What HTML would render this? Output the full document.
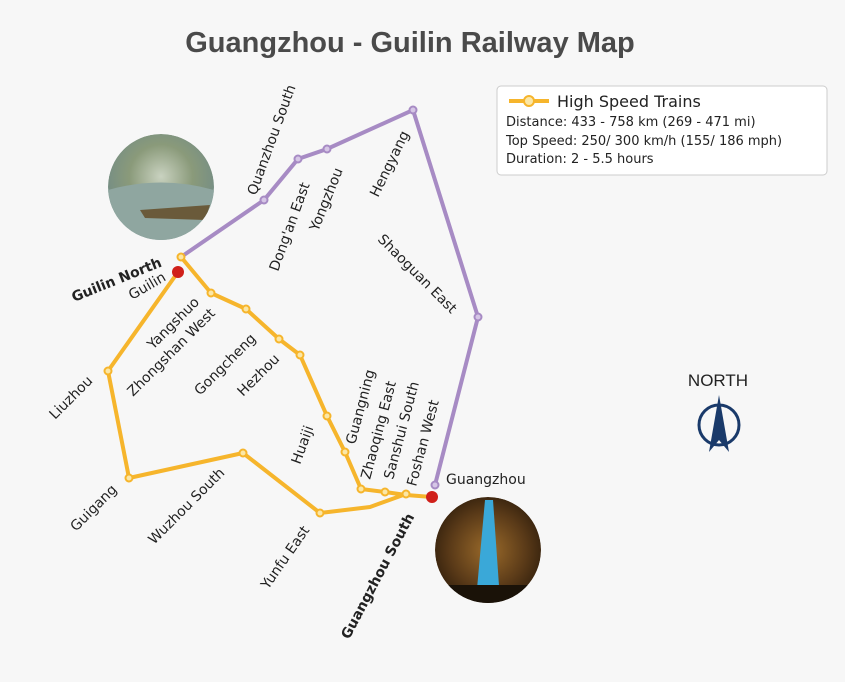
<!DOCTYPE html>
<html><head><meta charset="utf-8"><style>
body{margin:0;background:#f7f7f7;}
svg{display:block;font-family:"DejaVu Sans","Liberation Sans",sans-serif;}
</style></head><body>
<svg width="845" height="682" viewBox="0 0 845 682">
<defs>
<radialGradient id="g1" cx="50%" cy="40%" r="60%"><stop offset="0" stop-color="#c9d2c0"/><stop offset="0.5" stop-color="#8a9a7a"/><stop offset="1" stop-color="#6f8a88"/></radialGradient>
<radialGradient id="g2" cx="50%" cy="50%" r="60%"><stop offset="0" stop-color="#9a6a2a"/><stop offset="0.6" stop-color="#5a3a18"/><stop offset="1" stop-color="#2a1a0a"/></radialGradient>
<clipPath id="c1"><circle cx="161" cy="187" r="53"/></clipPath>
<clipPath id="c2"><circle cx="488" cy="550" r="53"/></clipPath>
</defs>
<rect width="845" height="682" fill="#f7f7f7"/>
<text x="410" y="52" text-anchor="middle" font-family="Liberation Sans,sans-serif" font-weight="bold" font-size="29" fill="#4a4a4a">Guangzhou - Guilin Railway Map</text>

<g clip-path="url(#c1)">
<circle cx="161" cy="187" r="53" fill="url(#g1)"/>
<path d="M108,190 Q161,175 214,190 L214,240 L108,240Z" fill="#8fa6a0"/>
<path d="M140,210 L210,205 L205,220 L145,218Z" fill="#6a5a3a"/>
</g>
<g clip-path="url(#c2)">
<circle cx="488" cy="550" r="53" fill="url(#g2)"/>
<path d="M485,500 L493,500 L500,600 L476,600Z" fill="#3aa8d8"/>
<rect x="435" y="585" width="106" height="20" fill="#1a1208"/>
</g>

<polyline points="181,257 264,200 298,159 327,149 413,110 478,317 435,485" fill="none" stroke="#a78bc4" stroke-width="4"/>
<g fill="#d6c6e6" stroke="#a78bc4" stroke-width="2">
<circle cx="264" cy="200" r="3.5"/><circle cx="298" cy="159" r="3.5"/><circle cx="327" cy="149" r="3.5"/><circle cx="413" cy="110" r="3.5"/><circle cx="478" cy="317" r="3.5"/><circle cx="435" cy="485" r="3.5"/>
</g>
<g fill="none" stroke="#f6b52c" stroke-width="4" stroke-linejoin="round">
<polyline points="181,257 211,293 246,309 279,339 300,355 327,416 345,452 361,489 385,492 406,495 432,497"/>
<polyline points="178,272 108,371 129,478 243,453 320,513 370,507 406,494"/>
</g>
<g fill="#fbe7a6" stroke="#f6b52c" stroke-width="2">
<circle cx="181" cy="257" r="3.5"/><circle cx="211" cy="293" r="3.5"/><circle cx="246" cy="309" r="3.5"/><circle cx="279" cy="339" r="3.5"/><circle cx="300" cy="355" r="3.5"/><circle cx="327" cy="416" r="3.5"/><circle cx="345" cy="452" r="3.5"/><circle cx="361" cy="489" r="3.5"/><circle cx="385" cy="492" r="3.5"/><circle cx="406" cy="494" r="3.5"/><circle cx="108" cy="371" r="3.5"/><circle cx="129" cy="478" r="3.5"/><circle cx="243" cy="453" r="3.5"/><circle cx="320" cy="513" r="3.5"/>
</g>
<circle cx="178" cy="272" r="6" fill="#d0201a"/>
<circle cx="432" cy="497" r="6" fill="#d0201a"/>

<g font-size="14" fill="#222">
<text transform="translate(256,196) rotate(-70)">Quanzhou South</text>
<text transform="translate(278,272) rotate(-70)">Dong'an East</text>
<text transform="translate(318,232) rotate(-68)">Yongzhou</text>
<text transform="translate(378,198) rotate(-64)">Hengyang</text>
<text transform="translate(377,240) rotate(45)">Shaoguan East</text>
<text transform="translate(132,300) rotate(-30)">Guilin</text>
<text transform="translate(153,350) rotate(-45)">Yangshuo</text>
<text transform="translate(133,397) rotate(-45)">Zhongshan West</text>
<text transform="translate(200,396) rotate(-45)">Gongcheng</text>
<text transform="translate(243,397) rotate(-45)">Hezhou</text>
<text transform="translate(55,420) rotate(-45)">Liuzhou</text>
<text transform="translate(76,532) rotate(-45)">Guigang</text>
<text transform="translate(154,545) rotate(-45)">Wuzhou South</text>
<text transform="translate(268,590) rotate(-55)">Yunfu East</text>
<text transform="translate(300,465) rotate(-70)">Huaiji</text>
<text transform="translate(355,445) rotate(-75)">Guangning</text>
<text transform="translate(370,480) rotate(-75)">Zhaoqing East</text>
<text transform="translate(393,480) rotate(-75)">Sanshui South</text>
<text transform="translate(416,487) rotate(-75)">Foshan West</text>
<text x="446" y="484">Guangzhou</text>
<text transform="translate(74,302) rotate(-22)" font-weight="bold">Guilin North</text>
<text transform="translate(349,640) rotate(-62)" font-weight="bold">Guangzhou South</text>
</g>

<rect x="497" y="86" width="330" height="89" rx="4" fill="#fff" stroke="#ccc"/>
<line x1="509" y1="101" x2="549" y2="101" stroke="#f6b52c" stroke-width="4"/>
<circle cx="529" cy="101" r="5" fill="#fbe7a6" stroke="#f6b52c" stroke-width="2"/>
<text x="557" y="107" font-size="16" fill="#222">High Speed Trains</text>
<g font-size="13" fill="#222">
<text x="506" y="126">Distance: 433 - 758 km (269 - 471 mi)</text>
<text x="506" y="145">Top Speed: 250/ 300 km/h (155/ 186 mph)</text>
<text x="506" y="163">Duration: 2 - 5.5 hours</text>
</g>

<text x="718" y="386" text-anchor="middle" font-family="Liberation Sans,sans-serif" font-size="17" fill="#222">NORTH</text>
<circle cx="719" cy="425" r="20" fill="none" stroke="#1a3a6a" stroke-width="3"/>
<polygon points="719,395 729,452 719,440 709,452" fill="#1a3a6a"/>
</svg>
</body></html>
